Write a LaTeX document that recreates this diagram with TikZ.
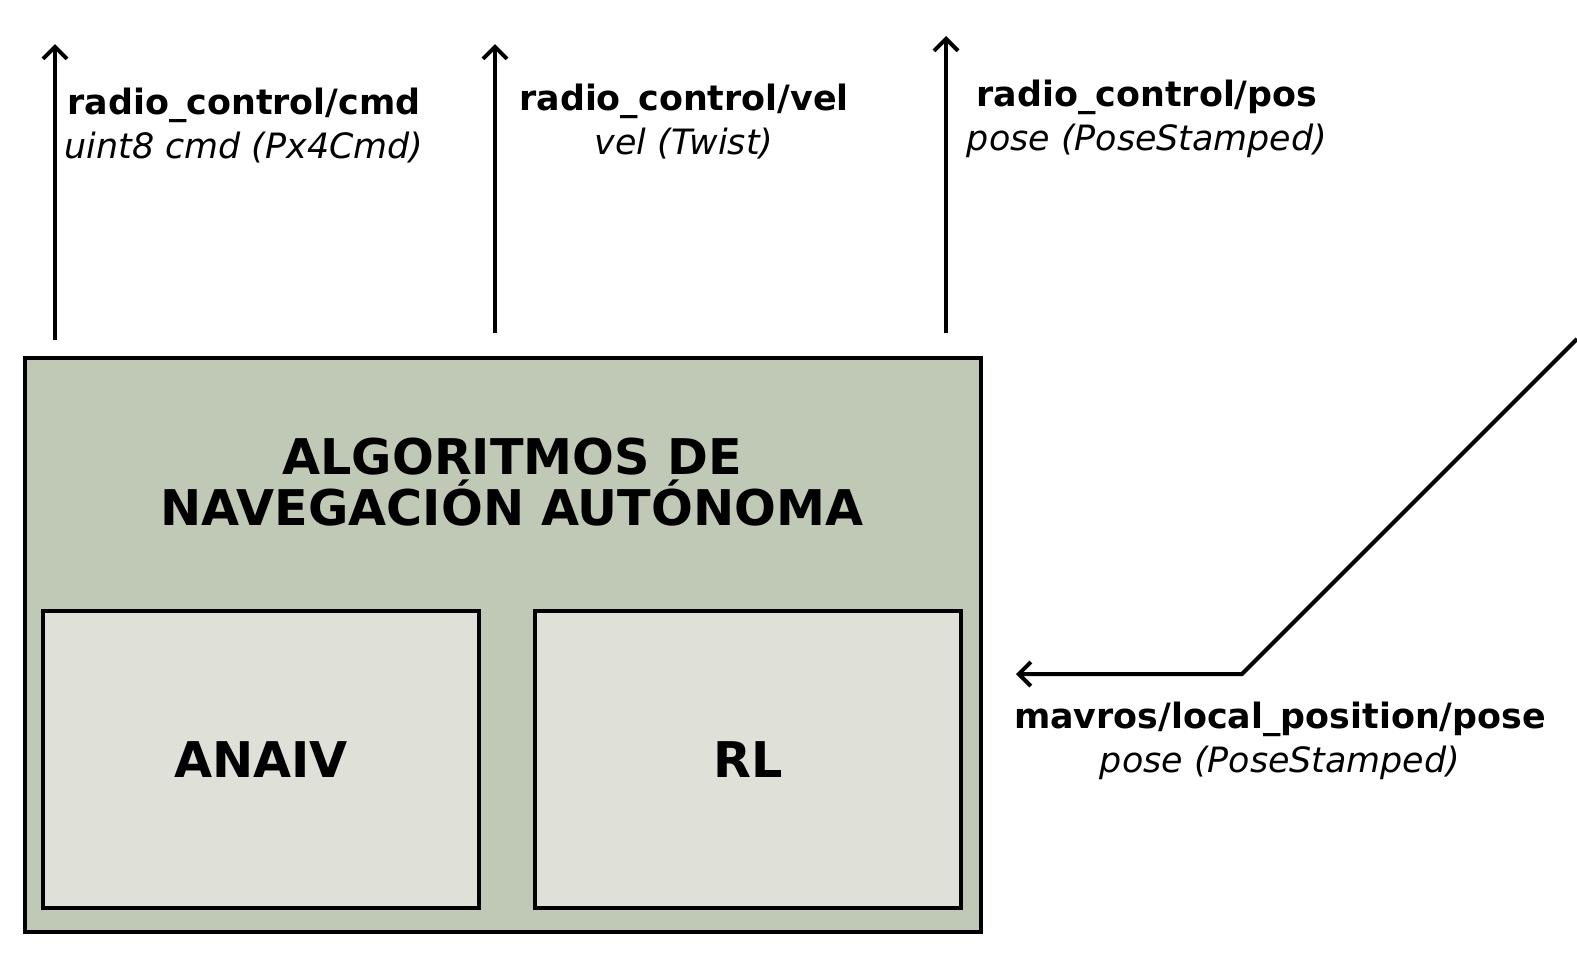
\documentclass[tikz,border=0pt]{standalone}
\usepackage{fontspec}
\setmainfont{DejaVu Sans}
\usetikzlibrary{arrows.meta}
\definecolor{fondo}{HTML}{C0C9B5}
\definecolor{fondoint}{HTML}{DFE1D8}
\tikzset{
    bloque/.style={draw, line width=2bp, inner sep=0pt, fill=fondoint, minimum height=148.5bp,
        font=\fontsize{24.7}{25.1}\selectfont\bfseries},
    flecha/.style={line width=2bp, -{Straight Barb[length=6bp, width=12bp]}},
    etiqueta/.style={align=center, anchor=base, inner sep=0pt, font=\fontsize{17.5}{21.6}\selectfont},
}
\begin{document}
\begin{tikzpicture}[x=0.5bp, y=-0.5bp]
        \useasboundingbox (0, 0) rectangle (1577, 968);
        %bloque principal y sus dos algoritmos
        \node[draw, line width=2bp, inner sep=0pt, fill=fondo, minimum width=478bp, minimum height=287bp] (alg) at (503, 645) {};
        \node[align=center, anchor=base, inner sep=0pt, font=\fontsize{24.7}{25.1}\selectfont\bfseries] (titulo) at (512, 525) {ALGORITMOS DE\\NAVEGACIÓN AUTÓNOMA};
        \node[bloque, minimum width=218bp] (anaiv) at (261, 759.5) {ANAIV};
        \node[bloque, minimum width=213bp] (rl) at (748, 759.5) {RL};
        %topicos publicados
        \coordinate (cmd0) at (55, 340);   \coordinate (cmd1) at (55, 44);
        \coordinate (vel0) at (495, 333);  \coordinate (vel1) at (495, 44);
        \coordinate (pos0) at (946, 333);  \coordinate (pos1) at (946, 36);
        \draw[flecha] (cmd0) -- (cmd1);
        \draw[flecha] (vel0) -- (vel1);
        \draw[flecha] (pos0) -- (pos1);
        \node[etiqueta] (tcmd) at (244, 158) {\bfseries radio\_control/cmd\\\itshape uint8 cmd (Px4Cmd)};
        \node[etiqueta] (tvel) at (684, 154) {\bfseries radio\_control/vel\\\itshape vel (Twist)};
        \node[etiqueta] (tpos) at (1147, 150) {\bfseries radio\_control/pos\\\itshape pose (PoseStamped)};
        %topico suscrito
        \coordinate (mav0) at (1577, 339); \coordinate (codo) at (1242, 674); \coordinate (mav1) at (1016, 674);
        \draw[flecha] (mav0) -- (codo) -- (mav1);
        \node[etiqueta] (tmav) at (1280, 772) {\bfseries mavros/local\_position/pose\\\itshape pose (PoseStamped)};
    \end{tikzpicture}
\end{document}
